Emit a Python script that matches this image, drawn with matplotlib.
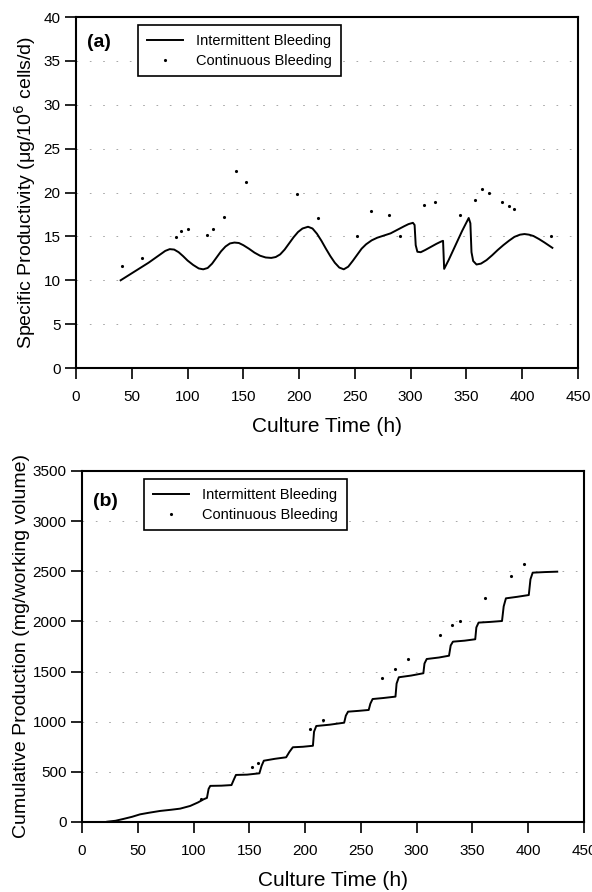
import matplotlib
matplotlib.use("Agg")
from matplotlib import pyplot as plt

plt.rcParams['font.family'] = ['Liberation Sans', 'DejaVu Sans']

# (a) specific productivity, ug/10^6 cells/d
ta_int = [40, 45, 50, 55, 60, 65, 70, 75, 80, 84, 88, 92, 96, 100, 105, 110, 114, 118, 122,
          126, 130, 134, 138, 142, 146, 150, 155, 160, 165, 170, 175, 179, 183, 187, 191, 195,
          199, 203, 208, 212, 216, 220, 224, 228, 232, 236, 240, 244, 248, 252, 256, 260, 265,
          270, 276, 282, 288, 294, 298, 302, 303.5, 304.5, 306, 309, 313, 318, 323, 327, 329,
          330, 334, 338, 342, 346, 350, 352, 353.5, 354.5, 356, 359, 363, 368, 373, 378, 383,
          388, 393, 398, 402, 406, 410, 415, 420, 427]
qa_int = [10.0, 10.4, 10.8, 11.2, 11.6, 12.0, 12.45, 12.9, 13.35, 13.55, 13.5, 13.2, 12.75,
          12.25, 11.75, 11.35, 11.25, 11.4, 11.9, 12.6, 13.3, 13.85, 14.2, 14.3, 14.25, 14.0,
          13.6, 13.15, 12.8, 12.6, 12.55, 12.65, 12.95, 13.5, 14.2, 14.9, 15.5, 15.9, 16.1,
          15.9, 15.3, 14.5, 13.6, 12.75, 12.0, 11.45, 11.25, 11.55, 12.2, 12.9, 13.6, 14.1,
          14.55, 14.85, 15.1, 15.35, 15.75, 16.15, 16.4, 16.55, 16.3, 14.0, 13.25, 13.2, 13.45,
          13.8, 14.15, 14.4, 14.5, 11.3, 12.3, 13.4, 14.5, 15.6, 16.6, 17.1, 16.5, 13.2, 12.2,
          11.8, 11.9, 12.3, 12.85, 13.45, 14.0, 14.5, 14.95, 15.2, 15.27, 15.2, 15.05, 14.7,
          14.3, 13.7]
ta_cont = [41, 59, 90, 94, 100, 117, 123, 133, 143, 152, 198, 217, 252, 264, 281, 290, 312,
           322, 344, 358, 364, 370, 382, 388, 393, 426]
qa_cont = [11.6, 12.5, 14.9, 15.6, 15.8, 15.2, 15.8, 17.2, 22.5, 21.2, 19.8, 17.1, 15.0, 17.9,
           17.4, 15.0, 18.6, 18.9, 17.4, 19.1, 20.4, 20.0, 18.9, 18.5, 18.1, 15.0]

# (b) cumulative production, mg/working volume
tb_int = [22.7, 30, 37, 45, 52, 60, 70, 80, 88, 97, 104, 109, 112, 113.5, 115, 125, 134, 136,
          138, 148, 159, 161, 163, 173, 183, 186, 189, 198, 207, 208, 210, 222, 235, 236.5,
          238.5, 248, 257, 258.5, 260.5, 270, 281, 282, 284, 295, 306, 307, 309, 320, 329,
          330.5, 332.5, 343, 352.5, 353.5, 355.5, 366, 376.5, 378, 380, 390, 400.5, 402, 404,
          415, 426]
pb_int = [3, 12, 30, 52, 76, 92, 110, 122, 133, 160, 195, 226, 240, 330, 360, 362, 368, 420,
          469, 472, 485, 560, 611, 630, 645, 700, 745, 750, 760, 900, 957, 970, 990, 1060,
          1100, 1108, 1117, 1180, 1226, 1236, 1250, 1380, 1443, 1460, 1483, 1580, 1625, 1640,
          1658, 1760, 1798, 1808, 1822, 1940, 1988, 1995, 2004, 2150, 2230, 2245, 2263, 2420,
          2486, 2492, 2496]
tb_cont = [107, 152, 158, 204, 216, 269, 281, 292, 321, 332, 339, 361, 385, 396]
pb_cont = [226, 552, 591, 924, 1017, 1433, 1526, 1622, 1865, 1964, 2007, 2230, 2456, 2570]

fig = plt.figure(figsize=(5.92, 8.92), dpi=100)
ax1 = fig.add_axes([0.1284, 0.5874, 0.848, 0.3935])
ax2 = fig.add_axes([0.1385, 0.0785, 0.848, 0.3935])

def style(ax, ylim, yticks):
    ax.set_xlim(0, 450)
    ax.set_ylim(*ylim)
    ax.set_xticks(range(0, 451, 50))
    ax.set_yticks(yticks)
    # faint remains of the dotted grid
    for y in yticks[1:-1]:
        ax.axhline(y, color='0.6', lw=0.6, dashes=(2, 14), zorder=0)
    for s in ax.spines.values():
        s.set_linewidth(1.5)
    ax.tick_params(axis='x', direction='out', length=8, width=1.2, labelsize=11, pad=8)
    ax.tick_params(axis='y', direction='out', length=8, width=1.2, labelsize=11, pad=3)
    ax.set_xlabel("Culture Time (h)", fontsize=15, labelpad=9)
    leg = ax.legend(loc='upper left', bbox_to_anchor=(0.1235, 0.977), borderaxespad=0,
                    frameon=True, fancybox=False, edgecolor='black', framealpha=1,
                    fontsize=10.5, handlelength=2.5, handletextpad=0.9, borderpad=0.6,
                    labelspacing=0.4)
    leg.get_frame().set_linewidth(1.2)

ax1.plot(ta_int, qa_int, 'k-', lw=1.4, label="Intermittent Bleeding")
ax1.plot(ta_cont, qa_cont, 'k.', ms=2.5, label="Continuous Bleeding")
style(ax1, (0, 40), list(range(0, 41, 5)))
ax1.set_ylabel("Specific Productivity (\u03bcg/10$^6$ cells/d)", fontsize=14, labelpad=4)
ax1.text(0.022, 0.915, "(a)", transform=ax1.transAxes, fontsize=14, fontweight='bold')

ax2.plot(tb_int, pb_int, 'k-', lw=1.4, label="Intermittent Bleeding")
ax2.plot(tb_cont, pb_cont, 'k.', ms=2.5, label="Continuous Bleeding")
style(ax2, (0, 3500), list(range(0, 3501, 500)))
ax2.set_ylabel("Cumulative Production (mg/working volume)", fontsize=14, labelpad=2)
ax2.text(0.022, 0.9, "(b)", transform=ax2.transAxes, fontsize=14, fontweight='bold')

fig.savefig("out.png", dpi=100)
